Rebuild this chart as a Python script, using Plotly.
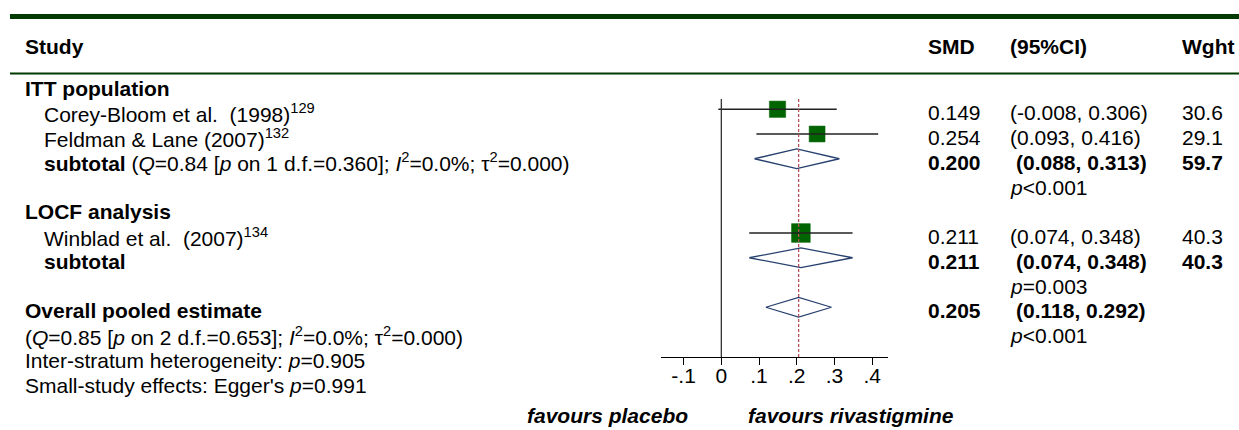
import plotly.graph_objects as go
import math

# ---------------- data ----------------
study_names = ["Corey-Bloom et al.\u00a0 (1998)", "Feldman &amp; Lane (2007)", "Winblad et al.\u00a0 (2007)"]
study_refs = ["129", "132", "134"]
study_smd = [0.149, 0.254, 0.211]
study_lo = [-0.008, 0.093, 0.074]
study_hi = [0.306, 0.416, 0.348]
study_wght = [30.6, 29.1, 40.3]
study_rows = [1, 2, 6]

group_names = ["ITT population", "LOCF analysis"]
group_rows = [0, 5]

sub_labels = [
    "<b>subtotal</b> (<i>Q</i>=0.84 [<i>p</i> on 1 d.f.=0.360]; <i>I</i><sup>2</sup>=0.0%; \u03c4<sup>2</sup>=0.000)",
    "<b>subtotal</b>",
]
sub_smd = [0.200, 0.211]
sub_lo = [0.088, 0.074]
sub_hi = [0.313, 0.348]
sub_wght = [59.7, 40.3]
sub_p = ["&lt;0.001", "=0.003"]
sub_rows = [3, 7]

overall_smd = 0.205
overall_lo = 0.118
overall_hi = 0.292
overall_p = "&lt;0.001"
overall_row = 9
overall_lines = [
    "(<i>Q</i>=0.85 [<i>p</i> on 2 d.f.=0.653]; <i>I</i><sup>2</sup>=0.0%; \u03c4<sup>2</sup>=0.000)",
    "Inter-stratum heterogeneity: <i>p</i>=0.905",
    "Small-study effects: Egger's <i>p</i>=0.991",
]

tick_vals = [-0.1, 0.0, 0.1, 0.2, 0.3, 0.4]
tick_text = ["-.1", "0", ".1", ".2", ".3", ".4"]

headers = ["Study", "SMD", "(95%CI)", "Wght"]
favours = ["favours placebo", "favours rivastigmine"]

# ---------------- layout constants ----------------
W, H = 1239, 430
FONT = "Liberation Sans, Arial, sans-serif"
FS = 21
ROW0, ROWH = 84.5, 24.75          # pixel of row 0 marker centre, row height


def prow(p):
    return (p - ROW0) / ROWH


def px(xpix):
    return xpix / W


GREEN_LINE = "#003a00"
SQ_COL = "#006400"
DIA_COL = "#27406e"
TEXT_SHIFT = -3.5

fig = go.Figure()

# squares
sq_k = 2.95
fig.add_trace(go.Scatter(
    x=study_smd, y=study_rows, mode="markers", opacity=1,
    marker=dict(symbol="square", size=[sq_k * math.sqrt(w) for w in study_wght], opacity=1,
                color=SQ_COL, line=dict(color=SQ_COL, width=0.5)),
    hoverinfo="skip", showlegend=False))

# CI lines
for lo, hi, r in zip(study_lo, study_hi, study_rows):
    fig.add_trace(go.Scatter(x=[lo, hi], y=[r, r], mode="lines",
                             line=dict(color="#222222", width=1.5),
                             hoverinfo="skip", showlegend=False))

# diamonds
dh = 0.4
dia_sets = list(zip(sub_lo, sub_smd, sub_hi, sub_rows)) + [(overall_lo, overall_smd, overall_hi, overall_row)]
for lo, est, hi, r in dia_sets:
    fig.add_trace(go.Scatter(x=[lo, est, hi, est, lo], y=[r, r - dh, r, r + dh, r], mode="lines",
                             line=dict(color=DIA_COL, width=1.3),
                             hoverinfo="skip", showlegend=False))

shapes = []
shapes.append(dict(type="line", xref="paper", yref="y", x0=px(10), x1=1, y0=prow(16.5), y1=prow(16.5),
                   line=dict(color=GREEN_LINE, width=5)))
shapes.append(dict(type="line", xref="paper", yref="y", x0=px(10), x1=1, y0=prow(73.5), y1=prow(73.5),
                   line=dict(color=GREEN_LINE, width=2)))
shapes.append(dict(type="line", xref="x", yref="y", x0=0, x1=0, y0=prow(99), y1=prow(357),
                   line=dict(color="#333333", width=1.3)))
shapes.append(dict(type="line", xref="x", yref="y", x0=overall_smd, x1=overall_smd, y0=prow(99), y1=prow(357),
                   line=dict(color="#b5505a", width=1.3, dash="3px,2px")))

ann = []


def text(x, r, t, anchor="left", shift=TEXT_SHIFT, size=FS):
    ann.append(dict(x=x, y=r, xref="paper", yref="y", text=t, showarrow=False,
                    xanchor=anchor, yanchor="middle", yshift=shift,
                    font=dict(family=FONT, size=size, color="black")))


X_LEFT, X_IND, X_SMD, X_CI, X_CIB, X_W = px(23), px(42), px(926), px(1008), px(1014), px(1180)

hr = prow(46) - 3.5 / ROWH
for x, h in zip([X_LEFT, X_SMD, X_CI, X_W], headers):
    text(x, hr, "<b>%s</b>" % h)

for g, r in zip(group_names, group_rows):
    text(X_LEFT, r, "<b>%s</b>" % g)

for n, ref, e, lo, hi, w, r in zip(study_names, study_refs, study_smd, study_lo, study_hi, study_wght, study_rows):
    text(X_IND, r, "%s<sup>%s</sup>" % (n, ref))
    text(X_SMD, r, "%.3f" % e)
    text(X_CI, r, "(%.3f, %.3f)" % (lo, hi))
    text(X_W, r, "%.1f" % w)

for lab, e, lo, hi, w, p, r in zip(sub_labels, sub_smd, sub_lo, sub_hi, sub_wght, sub_p, sub_rows):
    text(X_IND, r, lab)
    text(X_SMD, r, "<b>%.3f</b>" % e)
    text(X_CIB, r, "<b>(%.3f, %.3f)</b>" % (lo, hi))
    text(X_W, r, "<b>%.1f</b>" % w)
    text(X_CI, r + 1, "<i>p</i>%s" % p)

text(X_LEFT, overall_row, "<b>Overall pooled estimate</b>")
text(X_SMD, overall_row, "<b>%.3f</b>" % overall_smd)
text(X_CIB, overall_row, "<b>(%.3f, %.3f)</b>" % (overall_lo, overall_hi))
text(X_CI, overall_row + 1, "<i>p</i>%s" % overall_p)
for i, t in enumerate(overall_lines):
    text(X_LEFT, overall_row + 1 + i, t)

fr = prow(415.5) - 3.5 / ROWH
ann.append(dict(x=0, y=fr, xref="x", yref="y", text="<b><i>%s</i></b>" % favours[0], showarrow=False,
                xanchor="right", yanchor="middle", xshift=-31, yshift=TEXT_SHIFT,
                font=dict(family=FONT, size=FS, color="black")))
ann.append(dict(x=0, y=fr, xref="x", yref="y", text="<b><i>%s</i></b>" % favours[1], showarrow=False,
                xanchor="left", yanchor="middle", xshift=25, yshift=TEXT_SHIFT,
                font=dict(family=FONT, size=FS, color="black")))

fig.update_layout(
    width=W, height=H, margin=dict(l=0, r=0, t=0, b=0),
    paper_bgcolor="white", plot_bgcolor="white",
    showlegend=False, shapes=shapes, annotations=ann,
    xaxis=dict(domain=[661 / W, 888 / W], range=[-0.160, 0.442], anchor="free", position=1 - 357 / H,
               showline=True, linecolor="black", linewidth=1, ticks="outside", ticklen=7,
               tickcolor="black", tickvals=tick_vals, ticktext=tick_text, showgrid=False,
               ticklabelstandoff=-7,
               zeroline=False, tickfont=dict(family=FONT, size=FS, color="black"), fixedrange=True),
    yaxis=dict(domain=[0, 1], range=[prow(H), prow(0)], visible=False, showgrid=False,
               zeroline=False, fixedrange=True),
)

fig.write_html("out.html", config={"displayModeBar": False, "staticPlot": True},
               post_script="document.body.style.margin='0';document.body.style.overflow='hidden';")
